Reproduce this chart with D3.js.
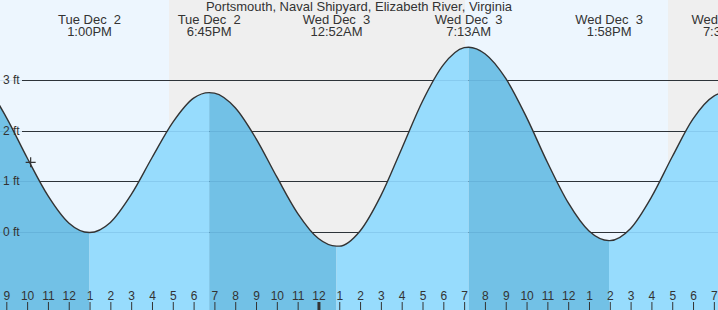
<!DOCTYPE html>
<html>
<head>
<meta charset="utf-8">
<script src="https://cdn.jsdelivr.net/npm/d3@7"></script>
<style>
  body { margin: 0; background: #fff; }
  text { font-family: "Liberation Sans", Arial, sans-serif; fill: #333; }
</style>
</head>
<body>
<div id="chart"></div>
<script>
// hours counted from Tue Dec 2, 00:00
var title = "Portsmouth, Naval Shipyard, Elizabeth River, Virginia";

// tide level (ft)
var tideHours = [7, 8, 9, 10, 11, 12, 13, 14, 15, 16, 17, 18, 18.75, 19, 20, 21, 22, 23, 24, 24.867,
    25, 26, 27, 28, 29, 30, 31, 31.217, 32, 33, 34, 35, 36, 37, 37.967, 38, 39, 40, 41, 42, 43, 43.55, 44];
var tideLevels = [3.30, 2.93, 2.26, 1.46, 0.71, 0.17, -0.02, 0.18, 0.73, 1.46, 2.16, 2.64, 2.75, 2.74, 2.45, 1.84, 1.08, 0.36, -0.14, -0.29,
    -0.29, 0.01, 0.71, 1.64, 2.58, 3.30, 3.64, 3.65, 3.52, 3.03, 2.26, 1.37, 0.57, 0.01, -0.18, -0.18, 0.06, 0.68, 1.48, 2.23, 2.68, 2.75, 2.70];

// highs and lows
var extremeHours = [13.0, 18.75, 24.867, 31.217, 37.967, 43.55];
var extremeDays = ["Tue Dec  2", "Tue Dec  2", "Wed Dec  3", "Wed Dec  3", "Wed Dec  3", "Wed Dec  3"];
var extremeTimes = ["1:00PM", "6:45PM", "12:52AM", "7:13AM", "1:58PM", "7:33PM"];

// sunset / sunrise
var nightStarts = [16.82, 40.8];
var nightEnds = [31.04, 48];

var feetTicks = [0, 1, 2, 3];
var hourTicks = d3.range(9, 44);

var nowHour = 10.17;
var nowLevel = 1.37;

var width = 718, height = 310;
var svg = d3.select("#chart").append("svg").attr("width", width).attr("height", height);

var x = d3.scaleLinear().domain([8.697, 8.697 + width / 20.81]).range([0, width]);
var y = d3.scaleLinear().domain([0, 3]).range([231.5, 80]);

//day background, then night bands
svg.append("rect").attr("width", width).attr("height", height).attr("fill", "#edf6fe");
nightStarts.forEach(function (s, i) {
    svg.append("rect")
        .attr("x", x(s)).attr("y", 0)
        .attr("width", x(nightEnds[i]) - x(s)).attr("height", height)
        .attr("fill", "#efefef");
});

//grid lines above water
feetTicks.forEach(function (f) {
    svg.append("line")
        .attr("x1", 22).attr("x2", width)
        .attr("y1", Math.round(y(f)) + 0.5).attr("y2", Math.round(y(f)) + 0.5)
        .attr("stroke", "#333").attr("stroke-width", 1);
});

var pts = tideHours.map(function (h, i) { return [h, tideLevels[i]]; });

svg.append("clipPath").attr("id", "plot").append("rect").attr("width", width).attr("height", height);
var g = svg.append("g").attr("clip-path", "url(#plot)");

//water area, rising = light, falling = dark
var bounds = [x.domain()[0] - 2].concat(extremeHours).concat([x.domain()[1] + 2]);
var area = d3.area().x(function (d) { return x(d[0]); }).y0(height).y1(function (d) { return y(d[1]); })
    .curve(d3.curveMonotoneX);
for (var i = 0; i < bounds.length - 1; i++) {
    var a = bounds[i], b = bounds[i + 1];
    g.append("clipPath").attr("id", "seg" + i).append("rect")
        .attr("x", x(a)).attr("y", 0).attr("width", x(b) - x(a)).attr("height", height);
    var falling = i % 2 === 0;
    g.append("path").datum(pts)
        .attr("clip-path", "url(#seg" + i + ")")
        .attr("d", area)
        .attr("fill", falling ? "#72c1e6" : "#97dcfd");
}

//faint grid lines under water
feetTicks.forEach(function (f) {
    g.append("line")
        .attr("x1", 0).attr("x2", width)
        .attr("y1", Math.round(y(f)) + 0.5).attr("y2", Math.round(y(f)) + 0.5)
        .attr("stroke", "rgba(0,60,120,0.10)");
});

g.append("path").datum(pts)
    .attr("d", d3.line().x(function (d) { return x(d[0]); }).y(function (d) { return y(d[1]); }).curve(d3.curveMonotoneX))
    .attr("fill", "none").attr("stroke", "#333").attr("stroke-width", 1.4);

//feet labels on top
feetTicks.forEach(function (f) {
    svg.append("text")
        .attr("x", 3).attr("y", y(f) + 4)
        .attr("font-size", 12)
        .text(f + " ft");
});

//current time marker
svg.append("path")
    .attr("d", "M" + (x(nowHour) - 5) + "," + y(nowLevel) + "h10M" + x(nowHour) + "," + (y(nowLevel) - 5) + "v10")
    .attr("stroke", "#333").attr("stroke-width", 1.2);

//hour axis along the bottom
var axis = d3.axisTop(x).tickValues(hourTicks).tickSize(8).tickPadding(2)
    .tickFormat(function (h) { var v = h % 12; return v === 0 ? 12 : v; });
var ax = svg.append("g").attr("transform", "translate(0," + height + ")").call(axis);
ax.select(".domain").remove();
ax.selectAll("text").attr("font-size", 12).attr("fill", "#333").style("font-family", "Liberation Sans, Arial, sans-serif");
ax.selectAll("line").attr("stroke", "#333")
    .attr("stroke-width", function (h) { return h === 24 ? 3 : 1; });

//title and extreme labels
svg.append("text").attr("x", 359).attr("y", 11).attr("text-anchor", "middle").attr("font-size", 13).text(title);
extremeHours.forEach(function (h, i) {
    var t = svg.append("text").attr("text-anchor", "middle").attr("font-size", 13).style("white-space", "pre");
    t.append("tspan").attr("x", x(h)).attr("y", 24).text(extremeDays[i]);
    t.append("tspan").attr("x", x(h)).attr("y", 36).text(extremeTimes[i]);
});
</script>
</body>
</html>
